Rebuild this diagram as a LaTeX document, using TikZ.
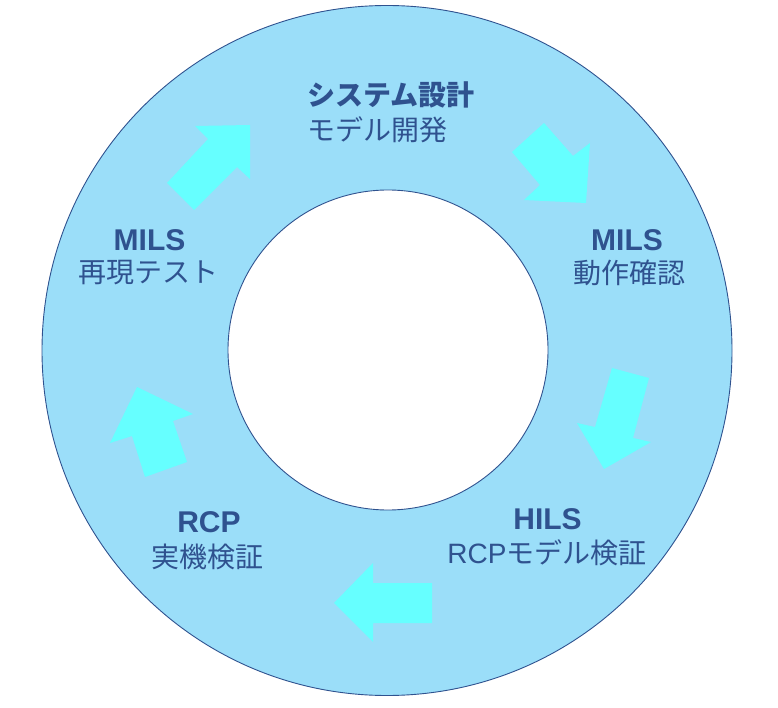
\documentclass[tikz,border=0pt]{standalone}
\usepackage{fontspec}
\setmainfont{Liberation Sans}
\newfontfamily\cjk{Noto Sans CJK JP}
\definecolor{ringfill}{HTML}{9BDEF9}
\definecolor{arrowfill}{HTML}{66FFFF}
\definecolor{txtblue}{HTML}{2F528F}
\tikzset{
  ring/.style={draw=txtblue, line width=0.9pt, fill=ringfill},
  hole/.style={draw=txtblue, line width=0.9pt, fill=white},
  bigarrow/.style={fill=arrowfill, draw=none},
  lbl/.style={text=txtblue, inner sep=0pt, font=\fontsize{28}{34}\selectfont},
  head/.style={text=txtblue, inner sep=0pt, font=\fontsize{30}{36}\selectfont\bfseries},
}
\begin{document}
\begin{tikzpicture}[x=1pt,y=-1pt]
\useasboundingbox (0,0) rectangle (778,708);
\node[ring, circle, minimum size=690pt, inner sep=0pt] (outer) at (387,350.5) {};
\node[hole, circle, minimum size=320pt, inner sep=0pt] (inner) at (388,350) {};
% arrows
\fill[bigarrow] (250,125) -- (195,126) -- (208,139) -- (167,183) -- (194,210) -- (237,167) -- (250,179) -- cycle;
\fill[bigarrow] (544,123) -- (573,156) -- (590,143) -- (586,203) -- (524,200) -- (540,185) -- (512,152) -- cycle;
\fill[bigarrow] (612,368) -- (649,378) -- (633,438) -- (651,442) -- (604,469) -- (577,423) -- (595,427) -- cycle;
\fill[bigarrow] (334,603) -- (373,563) -- (373,583) -- (432,583) -- (432,623) -- (373,623) -- (373,642) -- cycle;
\fill[bigarrow] (137,387) -- (193,414) -- (173,421) -- (187,462) -- (145,477) -- (132,436) -- (110,443) -- cycle;
% labels
\node[lbl, anchor=west] (t1a) at (307,95) {\cjk\bfseries システム設計};
\node[lbl, anchor=west] (t1b) at (307,130) {\cjk モデル開発};
\node[head] (t2a) at (627,240) {MILS};
\node[lbl] (t2b) at (629,273) {\cjk 動作確認};
\node[head] (t3a) at (547.5,519) {HILS};
\node[lbl] (t3b) at (547,553) {RCP{\cjk モデル検証}};
\node[head] (t4a) at (209,522) {RCP};
\node[lbl] (t4b) at (207.5,557) {\cjk 実機検証};
\node[head] (t5a) at (149.5,240) {MILS};
\node[lbl] (t5b) at (148,273) {\cjk 再現テスト};
\end{tikzpicture}
\end{document}
